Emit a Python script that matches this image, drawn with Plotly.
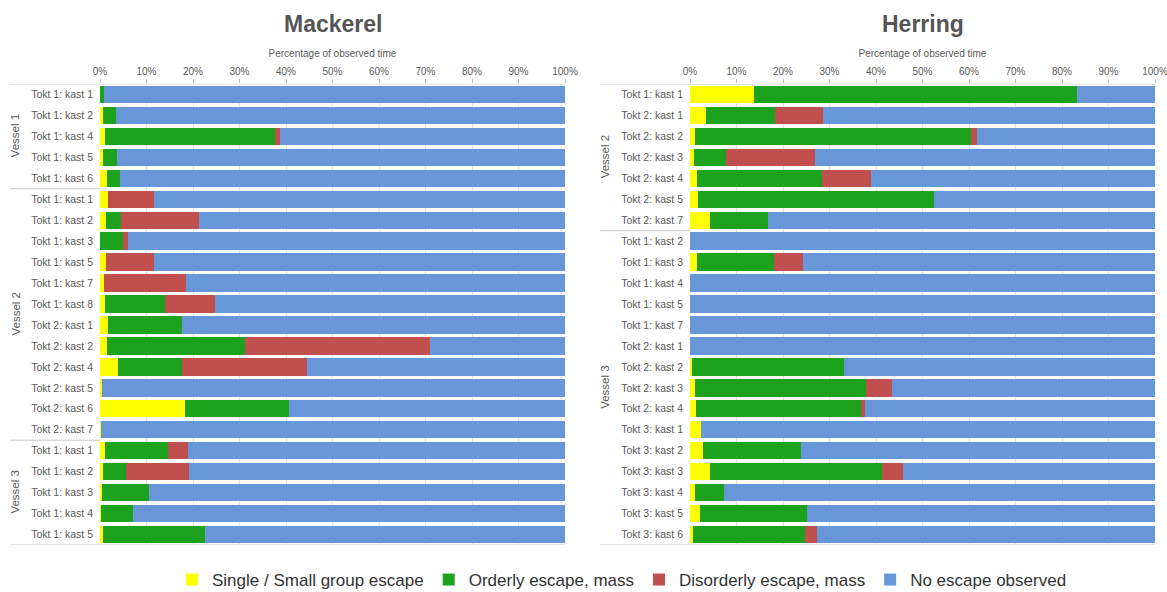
import plotly.graph_objects as go

# ---------------- data ----------------
series_names = ["Single / Small group escape", "Orderly escape, mass",
                "Disorderly escape, mass", "No escape observed"]
series_colors = ["#FFFF00", "#1CA21C", "#C0504D", "#6797D8"]

mack_labels = ["Tokt 1: kast 1", "Tokt 1: kast 2", "Tokt 1: kast 4", "Tokt 1: kast 5", "Tokt 1: kast 6",
               "Tokt 1: kast 1", "Tokt 1: kast 2", "Tokt 1: kast 3", "Tokt 1: kast 5", "Tokt 1: kast 7",
               "Tokt 1: kast 8", "Tokt 2: kast 1", "Tokt 2: kast 2", "Tokt 2: kast 4", "Tokt 2: kast 5",
               "Tokt 2: kast 6", "Tokt 2: kast 7",
               "Tokt 1: kast 1", "Tokt 1: kast 2", "Tokt 1: kast 3", "Tokt 1: kast 4", "Tokt 1: kast 5"]
mack_groups = ["Vessel 1"] * 5 + ["Vessel 2"] * 12 + ["Vessel 3"] * 5
mack_single = [0, 0.7, 1.0, 0.6, 1.6, 1.7, 1.3, 0, 1.2, 0.8, 1.0, 1.7, 1.5, 3.9, 0.5, 18.3, 0.2,
               1.0, 0.6, 0.5, 0.2, 0.6]
mack_orderly = [0.8, 2.8, 36.7, 3.1, 2.7, 0, 3.2, 5.0, 0, 0, 12.9, 15.9, 29.6, 13.7, 0, 22.4, 0,
                13.7, 5.0, 10.0, 6.9, 21.9]
mack_disorderly = [0, 0, 1.1, 0, 0, 9.9, 16.7, 1.0, 10.5, 17.6, 10.8, 0, 39.9, 26.9, 0, 0, 0,
                   4.3, 13.5, 0, 0, 0]
mack_none = [99.2, 96.5, 61.2, 96.3, 95.7, 88.4, 78.8, 94.0, 88.3, 81.6, 75.3, 82.4, 29.0, 55.5, 99.5,
             59.3, 99.8, 81.0, 80.9, 89.5, 92.9, 77.5]

herr_labels = ["Tokt 1: kast 1", "Tokt 2: kast 1", "Tokt 2: kast 2", "Tokt 2: kast 3", "Tokt 2: kast 4",
               "Tokt 2: kast 5", "Tokt 2: kast 7",
               "Tokt 1: kast 2", "Tokt 1: kast 3", "Tokt 1: kast 4", "Tokt 1: kast 5", "Tokt 1: kast 7",
               "Tokt 2: kast 1", "Tokt 2: kast 2", "Tokt 2: kast 3", "Tokt 2: kast 4",
               "Tokt 3: kast 1", "Tokt 3: kast 2", "Tokt 3: kast 3", "Tokt 3: kast 4", "Tokt 3: kast 5",
               "Tokt 3: kast 6"]
herr_groups = ["Vessel 2"] * 7 + ["Vessel 3"] * 15
herr_single = [13.8, 3.5, 1.1, 0.8, 1.4, 1.8, 4.2, 0, 1.4, 0, 0, 0, 0, 0.5, 1.0, 1.3,
               2.3, 2.7, 4.2, 1.1, 2.1, 0.6]
herr_orderly = [69.5, 14.8, 59.4, 7.0, 27.0, 50.7, 12.5, 0, 16.7, 0, 0, 0, 0, 32.6, 36.8, 35.5,
                0, 21.1, 37.0, 6.3, 23.1, 24.2]
herr_disorderly = [0, 10.4, 1.3, 19.0, 10.6, 0, 0, 0, 6.1, 0, 0, 0, 0, 0, 5.7, 0.9,
                   0, 0, 4.7, 0, 0, 2.6]
herr_none = [16.7, 71.3, 38.2, 73.2, 61.0, 47.5, 83.3, 100, 75.8, 100, 100, 100, 100, 66.9, 56.5, 62.3,
             97.7, 76.2, 54.1, 92.6, 74.8, 72.6]

tick_vals = list(range(0, 101, 10))
tick_text = [f"{v}%" for v in tick_vals]

# ---------------- figure ----------------
W, H = 1167, 592
FONT = "Liberation Sans, Arial, sans-serif"
fig = go.Figure()

panels = [
    dict(name="Mackerel", labels=mack_labels, groups=mack_groups,
         vals=[mack_single, mack_orderly, mack_disorderly, mack_none],
         xa="x", ya="y", dom=[100 / W, 565 / W], left=10 / W),
    dict(name="Herring", labels=herr_labels, groups=herr_groups,
         vals=[herr_single, herr_orderly, herr_disorderly, herr_none],
         xa="x2", ya="y2", dom=[690 / W, 1155 / W], left=600 / W),
]
ydom = [1 - 545 / H, 1 - 84 / H]
line_col = "#C8C8C8"

for p_i, p in enumerate(panels):
    idx = list(range(len(p["labels"])))
    for s_i, name in enumerate(series_names):
        fig.add_trace(go.Bar(
            x=p["vals"][s_i], y=idx, orientation="h", name=name,
            marker=dict(color=series_colors[s_i], line=dict(width=0)),
            xaxis=p["xa"], yaxis=p["ya"], showlegend=(p_i == 0),
            legendgroup=name))
    suffix = "" if p_i == 0 else "2"
    fig.update_layout(**{
        "xaxis" + suffix: dict(
            domain=p["dom"], range=[0, 100], side="top", anchor=p["ya"],
            tickvals=tick_vals, ticktext=tick_text, automargin=False,
            ticklabeloverflow="allow",
            tickfont=dict(size=10, color="#5A5A5A", family=FONT),
            ticks="outside", ticklen=4, tickcolor="#BBBBBB",
            showgrid=True, gridcolor="#E4E4E4", zeroline=False,
            showline=False, fixedrange=True,
            title=dict(text="Percentage of observed time",
                       font=dict(size=10, color="#5A5A5A", family=FONT), standoff=6)),
        "yaxis" + suffix: dict(
            domain=ydom, range=[len(idx) - 0.5, -0.5], anchor=p["xa"],
            tickvals=idx, ticktext=p["labels"], automargin=False,
            ticklabeloverflow="allow",
            tickfont=dict(size=10.5, color="#5A5A5A", family=FONT),
            ticks="", ticklabelstandoff=6, showgrid=False, zeroline=False,
            showline=False, fixedrange=True),
    })
    # panel title
    fig.add_annotation(text="<b>" + p["name"] + "</b>", xref="paper", yref="paper",
                       x=(p["dom"][0] + p["dom"][1]) / 2, y=1 - 24 / H,
                       xanchor="center", yanchor="middle",
                       showarrow=False, font=dict(size=23, color="#555555", family=FONT))
    # group separators and vessel labels
    left = p["left"]
    yref = p["ya"]
    bounds = [0]
    for i in range(1, len(p["groups"])):
        if p["groups"][i] != p["groups"][i - 1]:
            bounds.append(i)
    bounds.append(len(p["groups"]))
    for k, b in enumerate(bounds):
        x1 = p["dom"][1] if k in (0, len(bounds) - 1) else p["dom"][0]
        fig.add_shape(type="line", xref="paper", yref=yref, x0=left, x1=x1,
                      y0=b - 0.5, y1=b - 0.5, line=dict(color=line_col, width=1))
    for k in range(len(bounds) - 1):
        mid = (bounds[k] + bounds[k + 1] - 1) / 2
        fig.add_annotation(text=p["groups"][bounds[k]], xref="paper", yref=yref,
                           x=left + 5 / W, y=mid, textangle=-90, showarrow=False,
                           xanchor="center", yanchor="middle",
                           font=dict(size=11.5, color="#5A5A5A", family=FONT))

fig.update_layout(
    width=W, height=H, barmode="stack", bargap=0.17,
    margin=dict(l=0, r=0, t=0, b=0, autoexpand=False),
    paper_bgcolor="white", plot_bgcolor="white",
    font=dict(family=FONT, color="#444444"),
    legend=dict(orientation="h", x=622 / W, xanchor="center", y=1 - 580 / H, yanchor="middle",
                font=dict(size=17, color="#333333", family=FONT), itemwidth=30,
                traceorder="normal", itemclick=False, itemdoubleclick=False),
)

fig.write_html("out.html", config={"displayModeBar": False, "staticPlot": True},
               post_script="document.body.style.margin='0';document.body.style.overflow='hidden';")
